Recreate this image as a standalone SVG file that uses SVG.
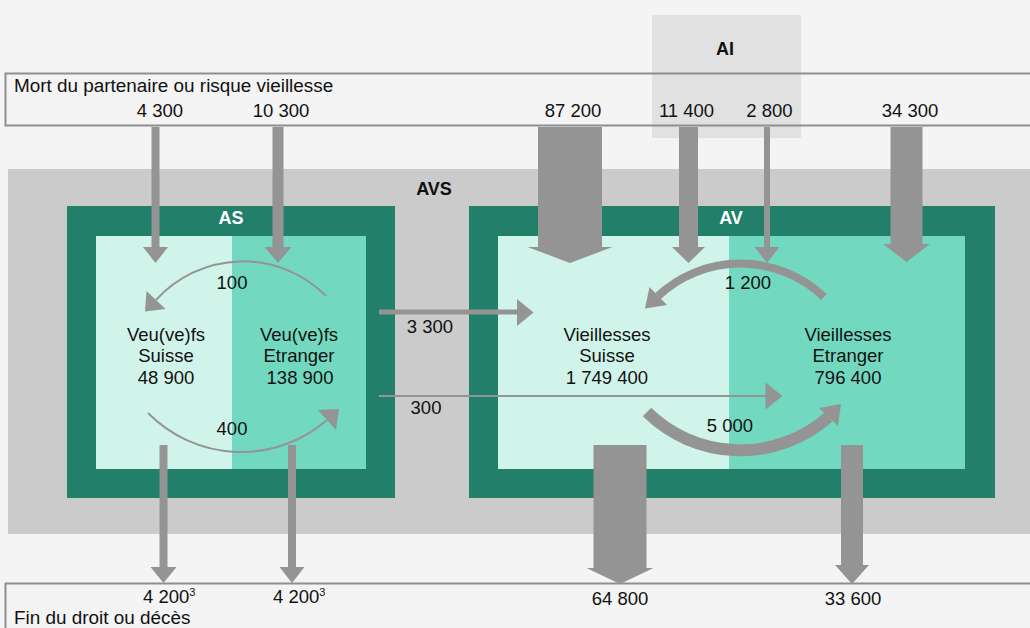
<svg xmlns="http://www.w3.org/2000/svg" width="1030" height="628" viewBox="0 0 1030 628">
<style>
text{font-family:"Liberation Sans",Arial,sans-serif;font-size:18.5px;fill:#111}
.c{text-anchor:middle}
.b{font-weight:bold;font-size:18px}
.w{fill:#fff}
.long{font-size:18.9px}
.band{fill:none;stroke:#8e8e8e;stroke-width:2}
.dk{fill:#217f6a}
.lt{fill:#d1f4ea}
.md{fill:#72d9c0}
.ar{fill:#949494}
.ln{fill:none;stroke:#949494}
</style>
<rect width="1030" height="628" fill="#f4f4f4"/>
<g id="ai">
<rect x="652" y="15" width="149" height="123" fill="#e1e1e1"/>
<text class="c b" x="725" y="55">AI</text>
</g>
<g id="top-band">
<rect class="band" x="5.5" y="73.5" width="1040" height="52"/>
<text class="long" x="14" y="92">Mort du partenaire ou risque vieillesse</text>
</g>
<g id="bottom-band">
<rect class="band" x="5.5" y="583.5" width="1040" height="60"/>
<text class="long" x="14" y="624">Fin du droit ou décès</text>
</g>
<g id="avs">
<rect x="8" y="169" width="1030" height="365" fill="#cbcbcb"/>
<text class="c b" x="434" y="195">AVS</text>
</g>
<g id="as">
<rect class="dk" x="67" y="206" width="328" height="292"/>
<text class="c b w" x="231" y="224">AS</text>
</g>
<g id="as-suisse">
<rect class="lt" x="96" y="236" width="136" height="233"/>
<text class="c" x="166" y="341">Veu(ve)fs</text>
<text class="c" x="166" y="362">Suisse</text>
<text class="c" x="166" y="384">48 900</text>
</g>
<g id="as-etranger">
<rect class="md" x="232" y="236" width="134" height="233"/>
<text class="c" x="299" y="341">Veu(ve)fs</text>
<text class="c" x="299" y="362">Etranger</text>
<text class="c" x="300" y="384">138 900</text>
</g>
<g id="av">
<rect class="dk" x="469" y="206" width="526" height="292"/>
<text class="c b w" x="731" y="224">AV</text>
</g>
<g id="av-suisse">
<rect class="lt" x="498" y="236" width="231" height="233"/>
<text class="c" x="607" y="341">Vieillesses</text>
<text class="c" x="607" y="362">Suisse</text>
<text class="c" x="607" y="384">1 749 400</text>
</g>
<g id="av-etranger">
<rect class="md" x="729" y="236" width="236" height="233"/>
<text class="c" x="848" y="341">Vieillesses</text>
<text class="c" x="848" y="362">Etranger</text>
<text class="c" x="848" y="384">796 400</text>
</g>
<g id="connectors">
<polygon class="ar" points="151.5,127 159.5,127 159.5,247 168,247 155.5,263 143,247 151.5,247"/>
<polygon class="ar" points="272.5,127 283.5,127 283.5,247 291.5,247 278,263 264.5,247 272.5,247"/>
<polygon class="ar" points="538,127 602,127 602,247 612.5,247 570,263 527.5,247 538,247"/>
<polygon class="ar" points="679,127 698,127 698,247 705,247 688.5,263 672,247 679,247"/>
<polygon class="ar" points="764,127 770,127 770,247 779.5,247 767,263 754.5,247 764,247"/>
<polygon class="ar" points="890.5,127 922.5,127 922.5,244 930,244 906.5,262 883,244 890.5,244"/>
<polygon class="ar" points="159.5,445 167.5,445 167.5,567 176.5,567 163.5,583 150.5,567 159.5,567"/>
<polygon class="ar" points="288,445 296,445 296,567 304.5,567 292,583 279.5,567 288,567"/>
<polygon class="ar" points="593.5,445 646.5,445 646.5,568 653.5,568 620,584 586.5,568 593.5,568"/>
<polygon class="ar" points="841,445 863,445 863,565 869,565 852,584 835,565 841,565"/>
<rect class="ar" x="379" y="309.5" width="138" height="5"/>
<polygon class="ar" points="517,299 533.5,312.5 517,326"/>
<line class="ln" x1="379" y1="396" x2="766" y2="396" stroke-width="2"/>
<polygon class="ar" points="765.5,382.5 782.5,396 765.5,409.5"/>
<path class="ln" d="M326 296 A117 117 0 0 0 156 300" stroke-width="2"/>
<polygon class="ar" points="145,311.5 146.5,291 165.5,309"/>
<path class="ln" d="M148 413 A131 131 0 0 0 327 420" stroke-width="2"/>
<polygon class="ar" points="339,409 318,410 336,430"/>
<path class="ln" d="M824 297 A121 121 0 0 0 658 296" stroke-width="8"/>
<polygon class="ar" points="645,308.5 649.5,287 667,305"/>
<path class="ln" d="M647 412 A133 133 0 0 0 828.5 417" stroke-width="12"/>
<polygon class="ar" points="841,404 819,408 838,426"/>
</g>
<g id="labels">
<text class="c" x="160" y="117">4 300</text>
<text class="c" x="281" y="117">10 300</text>
<text class="c" x="573" y="117">87 200</text>
<text class="c" x="686.5" y="117">11 400</text>
<text class="c" x="769.5" y="117">2 800</text>
<text class="c" x="910" y="117">34 300</text>
<text class="c" x="232" y="289">100</text>
<text class="c" x="232" y="435">400</text>
<text class="c" x="748" y="289">1 200</text>
<text class="c" x="730" y="432">5 000</text>
<text class="c" x="430" y="333">3 300</text>
<text class="c" x="426" y="414">300</text>
<text x="143" y="603">4 200<tspan dy="-7" font-size="11">3</tspan></text>
<text x="273" y="603">4 200<tspan dy="-7" font-size="11">3</tspan></text>
<text class="c" x="620" y="605">64 800</text>
<text class="c" x="853" y="605">33 600</text>
</g>
</svg>
